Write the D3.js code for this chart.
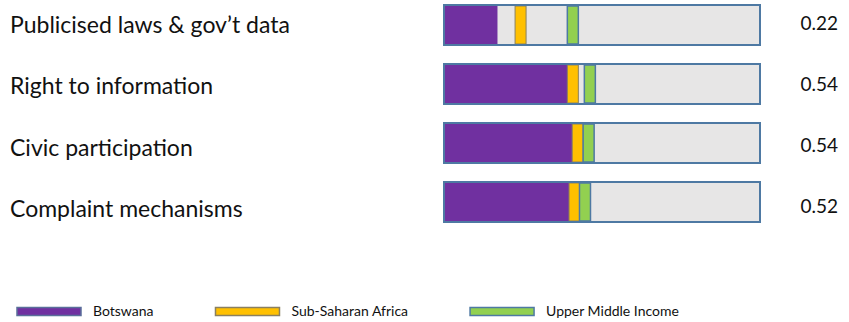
<!DOCTYPE html>
<html>
<head>
<meta charset="utf-8">
<script src="https://cdn.jsdelivr.net/npm/d3@7"></script>
<style>
  html, body { margin: 0; padding: 0; background: #ffffff; }
  svg { display: block; }
  text { font-family: Lato, "Open Sans", sans-serif; fill: #111111; }
</style>
</head>
<body>
<svg id="chart" width="849" height="322"></svg>
<script>
// Governance indicators: Botswana score vs regional and income-group averages
const categories = [
  "Publicised laws & gov\u2019t data",
  "Right to information",
  "Civic participation",
  "Complaint mechanisms"
];
const botswana        = [0.22, 0.54, 0.54, 0.52];
const subSaharan      = [0.315, 0.53, 0.55, 0.537];
const upperMiddle     = [0.53, 0.60, 0.595, 0.58];
const seriesNames     = ["Botswana", "Sub-Saharan Africa", "Upper Middle Income"];
const scaleMax        = 1.3;

const colors  = { bots: "#7030A0", ssa: "#FFC000", umi: "#92D050" };
const strokes = { track: "#4E79A3", ssa: "#8A8060", umi: "#4E79A3", bots: "#5A6F9A" };

const svg = d3.select("#chart");

const x = d3.scaleLinear().domain([0, scaleMax]).range([444, 760]);
const y = d3.scaleBand().domain(categories).range([5, 222]).paddingInner(0.322).paddingOuter(0);
const labelY = d3.scalePoint().domain(categories).range([33, 217]);
const valueY = d3.scalePoint().domain(categories).range([30, 213]);

const rows = categories.map((c, i) => ({
  cat: c, bots: botswana[i], ssa: subSaharan[i], umi: upperMiddle[i]
}));

const markerW = 11;

const row = svg.selectAll("g.row").data(rows).join("g").attr("class", "row");

// background track
row.append("rect")
  .attr("x", x(0)).attr("y", d => y(d.cat))
  .attr("width", x(scaleMax) - x(0)).attr("height", y.bandwidth())
  .attr("fill", "#E7E6E6");

// Botswana bar
row.append("rect")
  .attr("x", x(0)).attr("y", d => y(d.cat))
  .attr("width", d => x(d.bots) - x(0)).attr("height", y.bandwidth())
  .attr("fill", colors.bots);

// Sub-Saharan Africa marker
row.append("rect")
  .attr("x", d => x(d.ssa) - markerW / 2).attr("y", d => y(d.cat) + 1)
  .attr("width", markerW).attr("height", y.bandwidth() - 2)
  .attr("fill", colors.ssa).attr("stroke", strokes.ssa).attr("stroke-width", 1);

// Upper Middle Income marker
row.append("rect")
  .attr("x", d => x(d.umi) - markerW / 2).attr("y", d => y(d.cat) + 1)
  .attr("width", markerW).attr("height", y.bandwidth() - 2)
  .attr("fill", colors.umi).attr("stroke", strokes.umi).attr("stroke-width", 1.5);

// track outline on top
row.append("rect")
  .attr("x", x(0)).attr("y", d => y(d.cat))
  .attr("width", x(scaleMax) - x(0)).attr("height", y.bandwidth())
  .attr("fill", "none").attr("stroke", strokes.track).attr("stroke-width", 2);

// category labels
row.append("text")
  .attr("x", 10).attr("y", d => labelY(d.cat))
  .style("font-size", "23px")
  .text(d => d.cat);

// value labels
const fmt = d3.format(".2f");
row.append("text")
  .attr("x", 838).attr("y", d => valueY(d.cat))
  .attr("text-anchor", "end")
  .style("font-size", "19px")
  .text(d => fmt(d.bots));

// legend
const legendFill = [colors.bots, colors.ssa, colors.umi];
const legendStroke = [strokes.bots, strokes.ssa, strokes.umi];
const legend = svg.append("g");
let lx = 17;
seriesNames.forEach((name, i) => {
  legend.append("rect")
    .attr("x", lx).attr("y", 307.5).attr("width", 64).attr("height", 8)
    .attr("fill", legendFill[i]).attr("stroke", legendStroke[i]).attr("stroke-width", 1.5);
  const t = legend.append("text")
    .attr("x", lx + 64 + 12).attr("y", 316)
    .style("font-size", "14px")
    .text(name);
  lx += 64 + 12 + t.node().getComputedTextLength() + 62;
});
</script>
</body>
</html>
